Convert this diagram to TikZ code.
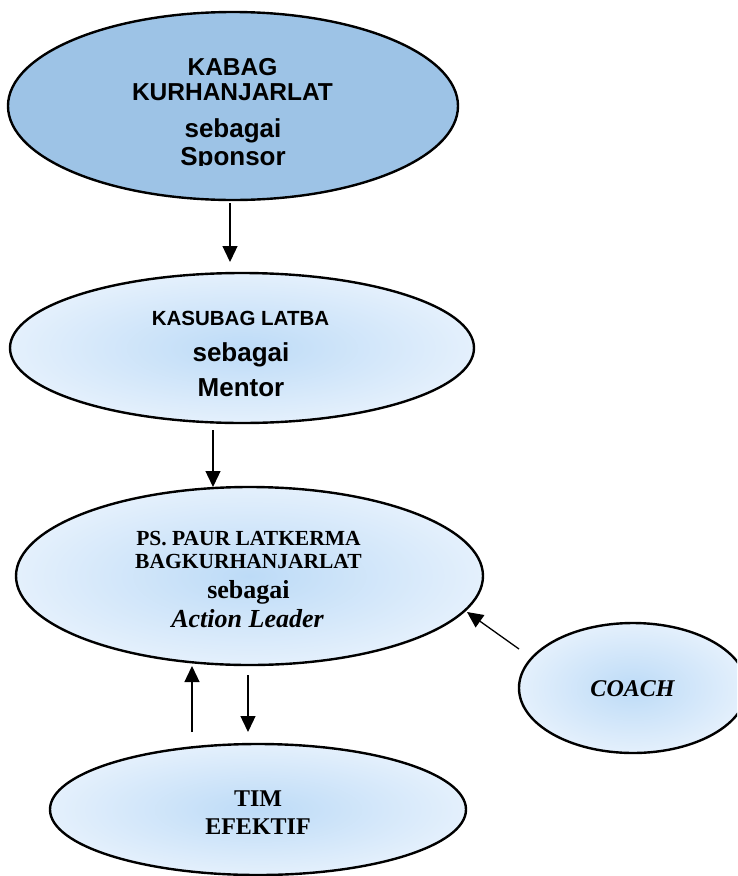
\documentclass[tikz,border=0pt]{standalone}
\usepackage{fontspec}
\setmainfont{Liberation Serif}
\setsansfont{Liberation Sans}
\usetikzlibrary{shapes.geometric,arrows.meta}

\definecolor{sponsorblue}{RGB}{157,195,230}
\definecolor{shadein}{RGB}{189,219,247}
\definecolor{shadeout}{RGB}{228,240,252}

\newcommand{\fsz}[1]{\fontsize{#1}{#1}\selectfont}

\begin{document}
\begin{tikzpicture}[x=1pt,y=-1pt,
  oval/.style={ellipse, draw=black, line width=2.4pt, inner sep=0pt},
  darkoval/.style={oval, fill=sponsorblue},
  lightoval/.style={oval, inner color=shadein, outer color=shadeout},
  lbl/.style={anchor=base, inner sep=0pt},
  sanslbl/.style={lbl, font=\sffamily\bfseries},
  seriflbl/.style={lbl, font=\rmfamily\bfseries},
  arr/.style={line width=1.3pt, -{Triangle[length=16pt,width=15pt]}}
]
\useasboundingbox (0,0) rectangle (737,876);
\clip (0,0) rectangle (737,876);

% ellipses
\node[darkoval,  minimum width=450pt, minimum height=188pt] (sponsor) at (233,106) {};
\node[lightoval, minimum width=464pt, minimum height=150pt] (mentor)  at (242,348) {};
\node[lightoval, minimum width=467pt, minimum height=178pt] (leader)  at (249.5,576) {};
\node[lightoval, minimum width=228pt, minimum height=130pt] (coach)   at (633,688) {};
\node[lightoval, minimum width=416pt, minimum height=131pt] (tim)     at (258,809.5) {};

% sponsor labels
\node[sanslbl, font=\sffamily\bfseries\fsz{24.5}] (s1) at (232.5,75) {KABAG};
\node[sanslbl, font=\sffamily\bfseries\fsz{24.5}] (s2) at (232.5,100) {KURHANJARLAT};
\node[sanslbl, font=\sffamily\bfseries\fsz{26}] (s3) at (233,137.5) {sebagai};
\begin{scope}
  \clip (0,0) rectangle (737,165.5);
  \node[sanslbl, font=\sffamily\bfseries\fsz{26}] (s4) at (233,165) {Sponsor};
\end{scope}

% mentor labels
\node[sanslbl, font=\sffamily\bfseries\fsz{20.5}] (m1) at (240.5,325.5) {KASUBAG LATBA};
\node[sanslbl, font=\sffamily\bfseries\fsz{26}] (m2) at (241,361) {sebagai};
\node[sanslbl, font=\sffamily\bfseries\fsz{26}] (m3) at (241,396.5) {Mentor};

% action leader labels
\node[seriflbl, font=\rmfamily\bfseries\fsz{21.5}] (l1) at (248.5,545) {PS. PAUR LATKERMA};
\node[seriflbl, font=\rmfamily\bfseries\fsz{21.5}] (l2) at (248.5,568.3) {BAGKURHANJARLAT};
\node[seriflbl, font=\rmfamily\bfseries\fsz{26}] (l3) at (248.5,598.3) {sebagai};
\node[seriflbl, font=\rmfamily\bfseries\itshape\fsz{26}] (l4) at (247.5,627.3) {Action Leader};

% coach and team labels
\node[seriflbl, font=\rmfamily\bfseries\itshape\fsz{24}] (c1) at (632.5,696.7) {COACH};
\node[seriflbl, font=\rmfamily\bfseries\fsz{24}] (t1) at (258,806.7) {TIM};
\node[seriflbl, font=\rmfamily\bfseries\fsz{24}] (t2) at (258,834.3) {EFEKTIF};

% arrow end points
\coordinate (a1s) at (230,203);
\coordinate (a1e) at (230,262);
\coordinate (a2s) at (213,430);
\coordinate (a2e) at (213,487);
\coordinate (ups) at (192,732);
\coordinate (upe) at (192,666);
\coordinate (dns) at (248,675);
\coordinate (dne) at (248,732);
\coordinate (cs)  at (519,649);
\coordinate (ce)  at (467,612);

\draw[arr] (a1s) -- (a1e);
\draw[arr] (a2s) -- (a2e);
\draw[arr] (ups) -- (upe);
\draw[arr] (dns) -- (dne);
\draw[arr] (cs) -- (ce);
\end{tikzpicture}
\end{document}
